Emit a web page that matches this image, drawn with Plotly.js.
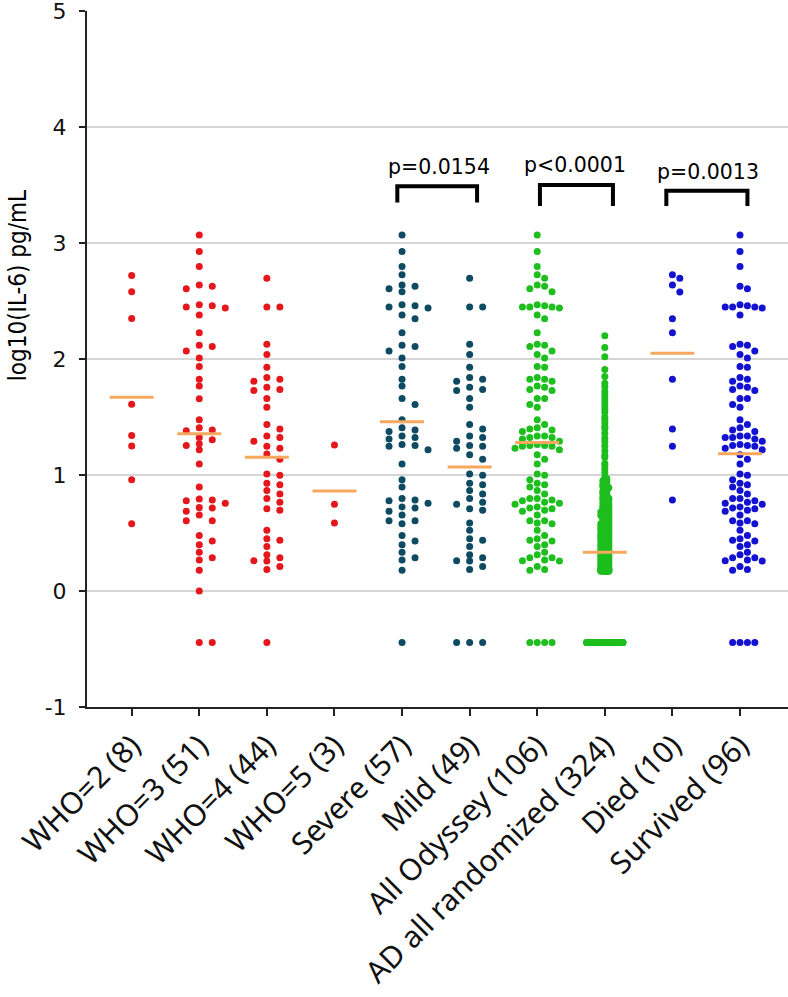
<!DOCTYPE html>
<html>
<head>
<meta charset="utf-8">
<script src="https://cdn.plot.ly/plotly-3.0.1.min.js"></script>
<style>html,body{margin:0;padding:0;background:#fff;}</style>
</head>
<body>
<div id="chart" style="width:788px;height:997px;"></div>
<script>
const categories = ["WHO=2 (8)", "WHO=3 (51)", "WHO=4 (44)", "WHO=5 (3)", "Severe (57)", "Mild (49)", "All Odyssey (106)", "AD all randomized (324)", "Died (10)", "Survived (96)"];
const yTickVals = [-1, 0, 1, 2, 3, 4, 5];
const yTickText = ["-1", "0", "1", "2", "3", "4", "5"];

const who2 = [2.72, 2.58, 2.35, 1.61, 1.34, 1.25, 0.96, 0.58];
const who3 = [3.07, 2.926, 2.797, 2.605, 2.637, 2.628, 2.448, 2.468, 2.439, 2.459, 2.379, 2.227, 2.118, 2.107, 2.069, 2.009,
  1.935, 1.826, 1.768, 1.657, 1.476, 1.387, 1.381, 1.407, 1.270, 1.324, 1.304, 1.255, 1.218, 1.095, 0.897, 0.757, 0.777, 0.794, 0.785,
  0.716, 0.719, 0.688, 0.656, 0.605, 0.605, 0.479, 0.398, 0.430, 0.333, 0.267, 0.287, 0.178, 0.0, -0.444, -0.444];
const who4 = [2.697, 2.448, 2.448, 2.127, 2.038, 1.929, 1.809, 1.757, 1.826, 1.840, 1.728, 1.737, 1.659, 1.585, 1.396, 1.436, 1.324,
  1.336, 1.290, 1.230, 1.247, 1.181, 1.135, 0.997, 1.009, 0.917, 0.929, 0.866, 0.837, 0.797, 0.765, 0.696, 0.708, 0.524, 0.438, 0.450,
  0.384, 0.312, 0.258, 0.261, 0.287, 0.186, 0.212, -0.444];
const who5 = [1.258, 0.748, 0.587];
const severe = [3.07, 2.926, 2.797, 2.726, 2.605, 2.628, 2.58, 2.637, 2.448, 2.459, 2.439, 2.468, 2.347, 2.379, 2.227, 2.107, 2.118, 2.069, 2.009,
  1.935, 1.826, 1.768, 1.659, 1.608, 1.476, 1.407, 1.376, 1.387, 1.324, 1.336, 1.255, 1.264, 1.310, 1.247, 1.218, 1.095, 0.960, 0.897,
  0.757, 0.688, 0.777, 0.785, 0.716, 0.797, 0.725, 0.656, 0.579, 0.605, 0.605, 0.479, 0.398, 0.430, 0.333, 0.267, 0.287, 0.178, -0.444];
const mild = [2.697, 2.448, 2.448, 2.127, 2.038, 1.929, 1.840, 1.737, 1.826, 1.728, 1.809, 1.757, 1.659, 1.585, 1.436, 1.396, 1.336, 1.324,
  1.247, 1.255, 1.290, 1.230, 1.175, 1.135, 0.997, 1.009, 0.917, 0.929, 0.866, 0.837, 0.797, 0.708, 0.748, 0.765, 0.696, 0.587, 0.524,
  0.438, 0.450, 0.384, 0.312, 0.258, 0.261, 0.287, 0.186, 0.212, -0.444, -0.444, -0.444];
const allOdyssey = [3.07, 2.926, 2.797, 2.726, 2.605, 2.628, 2.58, 2.637, 2.448, 2.459, 2.439, 2.468, 2.347, 2.379, 2.227, 2.107, 2.118, 2.069, 2.009,
  1.935, 1.826, 1.768, 1.659, 1.608, 1.476, 1.407, 1.376, 1.387, 1.324, 1.336, 1.255, 1.264, 1.310, 1.247, 1.218, 1.095, 0.960, 0.897,
  0.757, 0.688, 0.777, 0.785, 0.716, 0.797, 0.725, 0.656, 0.579, 0.605, 0.605, 0.479, 0.398, 0.430, 0.333, 0.267, 0.287, 0.178, -0.444,
  2.697, 2.448, 2.448, 2.127, 2.038, 1.929, 1.840, 1.737, 1.826, 1.728, 1.809, 1.757, 1.659, 1.585, 1.436, 1.396, 1.336, 1.324,
  1.247, 1.255, 1.290, 1.230, 1.175, 1.135, 0.997, 1.009, 0.917, 0.929, 0.866, 0.837, 0.797, 0.708, 0.748, 0.765, 0.696, 0.587, 0.524,
  0.438, 0.450, 0.384, 0.312, 0.258, 0.261, 0.287, 0.186, 0.212, -0.444, -0.444, -0.444];
const adRandomized = [
  2.20, 2.10, 2.02, 1.91, 1.85, 1.79, 1.76, 1.72, 1.69, 1.66, 1.63, 1.60, 1.57, 1.54, 1.50, 1.48, 1.45, 1.42, 1.40, 1.36,
  1.32, 1.29, 1.25, 1.21, 1.17, 1.15, 1.10, 1.08, 1.05, 1.02,
  0.98, 0.97, 0.96, 0.95, 0.95, 0.94, 0.93, 0.92, 0.92, 0.91, 0.90, 0.90,
  0.89, 0.89, 0.88, 0.87, 0.86, 0.86, 0.85, 0.84, 0.84, 0.83, 0.82, 0.81, 0.81, 0.80, 0.80,
  0.79, 0.79, 0.78, 0.78, 0.77, 0.76, 0.76, 0.75, 0.75, 0.74, 0.73, 0.73, 0.72, 0.72, 0.71, 0.71, 0.70, 0.70,
  0.69, 0.69, 0.68, 0.68, 0.68, 0.67, 0.67, 0.66, 0.66, 0.65, 0.65, 0.65, 0.64, 0.64, 0.63, 0.63, 0.62, 0.62, 0.61, 0.61, 0.60, 0.60,
  0.59, 0.59, 0.58, 0.58, 0.58, 0.57, 0.57, 0.56, 0.56, 0.56, 0.55, 0.55, 0.54, 0.54, 0.54, 0.53, 0.53, 0.52, 0.52, 0.52, 0.51, 0.51, 0.50, 0.50,
  0.49, 0.49, 0.49, 0.48, 0.48, 0.47, 0.47, 0.47, 0.46, 0.46, 0.46, 0.45, 0.45, 0.45, 0.44, 0.44, 0.43, 0.43, 0.43, 0.42, 0.42, 0.42,
  0.41, 0.41, 0.40, 0.40, 0.40,
  0.39, 0.39, 0.39, 0.38, 0.38, 0.38, 0.37, 0.37, 0.37, 0.36, 0.36, 0.36, 0.35, 0.35, 0.35, 0.35, 0.34, 0.34, 0.34, 0.33, 0.33, 0.33,
  0.32, 0.32, 0.32, 0.31, 0.31, 0.31, 0.30, 0.30, 0.30,
  0.29, 0.29, 0.29, 0.28, 0.28, 0.28, 0.28, 0.27, 0.27, 0.27, 0.26, 0.26, 0.26, 0.26, 0.25, 0.25, 0.25, 0.25, 0.24, 0.24, 0.24,
  0.23, 0.23, 0.23, 0.23, 0.22, 0.22, 0.22, 0.22, 0.21, 0.21, 0.21, 0.21, 0.20, 0.20, 0.20,
  0.19, 0.19, 0.19, 0.19, 0.19, 0.19, 0.19, 0.19, 0.19,
  0.18, 0.18, 0.18, 0.18, 0.18, 0.18, 0.18, 0.18, 0.18, 0.18,
  0.17, 0.17, 0.17, 0.17, 0.17, 0.17, 0.17, 0.17, 0.17,
  -0.444, -0.444, -0.444, -0.444, -0.444, -0.444, -0.444, -0.444, -0.444,
  -0.444, -0.444, -0.444, -0.444, -0.444, -0.444, -0.444, -0.444, -0.444,
  -0.444, -0.444, -0.444, -0.444, -0.444, -0.444, -0.444, -0.444, -0.444,
  -0.444, -0.444, -0.444, -0.444, -0.444, -0.444, -0.444, -0.444, -0.444,
  -0.444, -0.444, -0.444, -0.444, -0.444, -0.444, -0.444, -0.444, -0.444,
  -0.444, -0.444, -0.444, -0.444, -0.444, -0.444, -0.444, -0.444, -0.444,
  -0.444, -0.444, -0.444, -0.444, -0.444, -0.444, -0.444, -0.444, -0.444,
  -0.444, -0.444, -0.444, -0.444, -0.444, -0.444, -0.444, -0.444, -0.444,
  -0.444, -0.444, -0.444, -0.444, -0.444, -0.444, -0.444, -0.444, -0.444];
const died = [2.697, 2.726, 2.637, 2.577, 2.347, 2.227, 1.826, 1.396, 1.247, 0.785];
const survived = [3.07, 2.926, 2.797, 2.605, 2.628, 2.448, 2.459, 2.439, 2.468, 2.379, 2.107, 2.118, 2.069, 2.009,
  1.935, 1.768, 1.659, 1.608, 1.476, 1.407, 1.376, 1.387, 1.324, 1.336, 1.255, 1.264, 1.310, 1.218, 1.095, 0.960, 0.897, 0.757,
  0.688, 0.777, 0.716, 0.797, 0.725, 0.656, 0.579, 0.605, 0.605, 0.479, 0.398, 0.430, 0.333, 0.267, 0.287, 0.178, -0.444,
  2.448, 2.448, 2.127, 2.038, 1.929, 1.840, 1.737, 1.826, 1.728, 1.809, 1.757, 1.659, 1.585, 1.436, 1.336, 1.324, 1.247, 1.255,
  1.290, 1.230, 1.175, 1.135, 0.997, 1.009, 0.917, 0.929, 0.866, 0.837, 0.797, 0.708, 0.748, 0.765, 0.696, 0.587, 0.524, 0.438,
  0.450, 0.384, 0.312, 0.258, 0.261, 0.287, 0.186, 0.212, -0.444, -0.444, -0.444];

const groupMeans = [1.67, 1.356, 1.152, 0.862, 1.459, 1.069, 1.281, 0.333, 2.05, 1.184];
const pLabels = ["p=0.0154", "p<0.0001", "p=0.0013"];

// ---------- styling / layout helpers ----------
const groups = [who2, who3, who4, who5, severe, mild, allOdyssey, adRandomized, died, survived];
const RED = '#E3171C', TEAL = '#0E4B62', GREEN = '#1DBE1D', BLUE = '#1212D0', ORANGE = '#F5A85E';
const colors = [RED, RED, RED, RED, TEAL, TEAL, GREEN, GREEN, BLUE, BLUE];
const wide = {sx: 12.5, sy: 6, step: 6.5, maxOff: 26};
const dense = {sx: 7.4, sy: 7, step: 3.7, maxOff: 26};
const swarmParams = [wide, wide, wide, wide, wide, wide, dense,
  {sx: 2, sy: 2, step: 1, maxOff: 4, lodMaxOff: 19}, dense, dense];

const XPX = 67.6, YPX = 116;

function swarm(vals, p) {
  const order = vals.map((v, i) => i).sort((a, b) => vals[b] - vals[a]);
  const placed = [];
  const offs = new Array(vals.length);
  for (const i of order) {
    const yp = vals[i] * YPX;
    const maxOff = (vals[i] <= -0.4 && p.lodMaxOff) ? p.lodMaxOff : p.maxOff;
    const K = Math.floor(maxOff / p.step + 1e-9);
    let best = 0, bestCount = Infinity;
    for (let k = 0; k <= 2 * K; k++) {
      const m = k === 0 ? 0 : (k % 2 === 1 ? (k + 1) / 2 : -k / 2);
      const xo = m * p.step;
      let c = 0;
      for (const q of placed) {
        if (Math.abs(q.xo - xo) < p.sx && Math.abs(q.yp - yp) < p.sy) c++;
      }
      if (c === 0) { best = xo; bestCount = 0; break; }
      if (c < bestCount) { bestCount = c; best = xo; }
    }
    placed.push({xo: best, yp: yp});
    offs[i] = best / XPX;
  }
  return offs;
}

const traces = [];
groups.forEach((vals, gi) => {
  const offs = swarm(vals, swarmParams[gi]);
  traces.push({
    type: 'scatter', mode: 'markers',
    x: vals.map((v, i) => gi + offs[i]), y: vals,
    marker: {size: 7, color: colors[gi], line: {width: 0}},
    hoverinfo: 'y', showlegend: false
  });
});
groupMeans.forEach((m, gi) => {
  traces.push({
    type: 'scatter', mode: 'lines',
    x: [gi - 0.325, gi + 0.325], y: [m, m],
    line: {color: ORANGE, width: 3}, hoverinfo: 'skip', showlegend: false
  });
});

const shapes = [];
[0, 1, 2, 3, 4].forEach(v => shapes.push({
  type: 'line', xref: 'paper', yref: 'y', x0: 0, x1: 1, y0: v, y1: v,
  line: {color: '#c9c9c9', width: 1.5}, layer: 'below'
}));
const brackets = [
  {x0: 3.93, x1: 5.11, top: 3.49, bot: 3.35},
  {x0: 6.04, x1: 7.12, top: 3.50, bot: 3.32},
  {x0: 7.91, x1: 9.11, top: 3.45, bot: 3.32}
];
brackets.forEach(b => shapes.push({
  type: 'path', xref: 'x', yref: 'y',
  path: `M ${b.x0},${b.bot} L ${b.x0},${b.top} L ${b.x1},${b.top} L ${b.x1},${b.bot}`,
  line: {color: '#000', width: 4}
}));

const pPos = [{x: 4.55, y: 3.655}, {x: 6.565, y: 3.675}, {x: 8.53, y: 3.615}];
const annotations = pLabels.map((t, i) => ({
  text: t, xref: 'x', yref: 'y', x: pPos[i].x, y: pPos[i].y,
  showarrow: false, xanchor: 'center', yanchor: 'middle',
  font: {family: 'DejaVu Sans, Liberation Sans, sans-serif', size: 20.5, color: '#000'}
}));
annotations.push({
  text: 'log10(IL-6) pg/mL', xref: 'paper', yref: 'y', x: -0.098, y: 2.63,
  textangle: -90, showarrow: false, xanchor: 'center', yanchor: 'middle',
  font: {family: 'Liberation Sans Narrow, DejaVu Sans Condensed, Liberation Sans, sans-serif', size: 24, color: '#000'}
});

const layout = {
  width: 788, height: 997,
  margin: {l: 87, r: 0, t: 11, b: 290, pad: 0},
  paper_bgcolor: '#fff', plot_bgcolor: '#fff',
  showlegend: false,
  xaxis: {
    range: [-0.661, 9.71], tickmode: 'array', tickvals: categories.map((c, i) => i), ticktext: categories,
    tickangle: -45, ticks: 'outside', ticklen: 7, tickwidth: 2, tickcolor: '#222',
    showline: true, linewidth: 2, linecolor: '#222', showgrid: false, zeroline: false,
    tickfont: {family: 'Noto Sans, Open Sans, sans-serif', size: 30, color: '#111'},
    ticklabeloverflow: 'allow',
    automargin: false, fixedrange: true
  },
  yaxis: {
    range: [-1, 5], tickmode: 'array', tickvals: yTickVals, ticktext: yTickText,
    ticks: 'outside', ticklen: 6, tickwidth: 2, tickcolor: '#222',
    showline: true, linewidth: 2, linecolor: '#222', showgrid: false, zeroline: false,
    tickfont: {family: 'DejaVu Sans, Liberation Sans, sans-serif', size: 22, color: '#111'},
    ticklabelstandoff: 8, ticklabeloverflow: 'allow',
    automargin: false, fixedrange: true
  },
  shapes: shapes,
  annotations: annotations
};

Plotly.newPlot('chart', traces, layout, {displayModeBar: false, staticPlot: true});
</script>
</body>
</html>
